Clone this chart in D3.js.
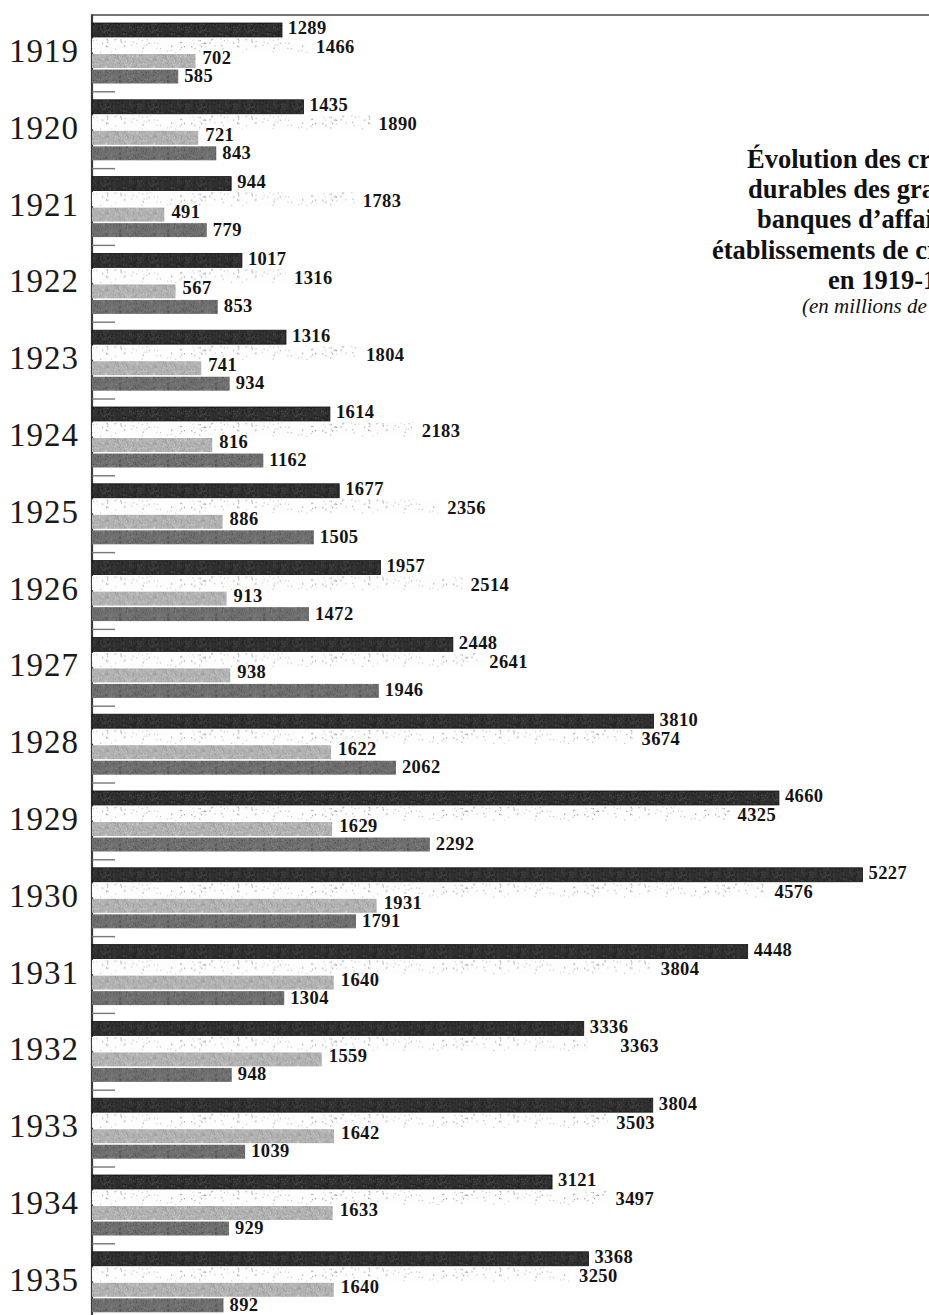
<!DOCTYPE html>
<html>
<head>
<meta charset="utf-8">
<script src="https://cdn.jsdelivr.net/npm/d3@7/dist/d3.min.js"></script>
<style>
  html, body { margin: 0; padding: 0; background: #fff; overflow: hidden; }
  svg { display: block; }
</style>
</head>
<body>
<svg id="chart" width="929" height="1315"></svg>
<script>
// Crédits durables, 1919-1935 (millions de francs)
const years = [1919, 1920, 1921, 1922, 1923, 1924, 1925, 1926, 1927, 1928, 1929, 1930, 1931, 1932, 1933, 1934, 1935];
const seriesDark = [1289, 1435, 944, 1017, 1316, 1614, 1677, 1957, 2448, 3810, 4660, 5227, 4448, 3336, 3804, 3121, 3368];
const seriesDotted = [1466, 1890, 1783, 1316, 1804, 2183, 2356, 2514, 2641, 3674, 4325, 4576, 3804, 3363, 3503, 3497, 3250];
const seriesLight = [702, 721, 491, 567, 741, 816, 886, 913, 938, 1622, 1629, 1931, 1640, 1559, 1642, 1633, 1640];
const seriesMedium = [585, 843, 779, 853, 934, 1162, 1505, 1472, 1946, 2062, 2292, 1791, 1304, 948, 1039, 929, 892];
const seriesKeys = ["dark", "dotted", "light", "medium"];
const titleLines = ["Évolution des crédits", "durables des grandes", "banques d’affaires et", "établissements de crédit", "en 1919-1935"];
const subtitle = "(en millions de francs)";

const svg = d3.select("#chart");
const W = 929, H = 1315;
const axisX = 92, frameTop = 15, groupStep = 76.8;
const serif = "'Liberation Serif', 'DejaVu Serif', serif";

const x = d3.scaleLinear().domain([0, 5227]).range([axisX, 862.5]);
const y = d3.scaleBand().domain(years).range([frameTop, frameTop + groupStep * years.length]).paddingInner(0).paddingOuter(0);
const ySub = d3.scaleBand().domain(seriesKeys).range([8, 68.5]).paddingInner(0.1).paddingOuter(0);

const rows = years.map((yr, i) => ({
  year: yr,
  values: [
    { key: "dark", v: seriesDark[i] },
    { key: "dotted", v: seriesDotted[i] },
    { key: "light", v: seriesLight[i] },
    { key: "medium", v: seriesMedium[i] }
  ]
}));

// ---- textures (seeded so the grain is stable) ----
const defs = svg.append("defs");
const rng = d3.randomLcg(0.137);

function grainPattern(id, base, speck, n, w, h, dot) {
  const p = defs.append("pattern").attr("id", id).attr("patternUnits", "userSpaceOnUse")
    .attr("width", w).attr("height", h);
  p.append("rect").attr("width", w).attr("height", h).attr("fill", base);
  for (let k = 0; k < n; k++) {
    p.append("rect")
      .attr("x", (rng() * w).toFixed(2)).attr("y", (rng() * h).toFixed(2))
      .attr("width", dot).attr("height", dot)
      .attr("fill", speck[k % speck.length]);
  }
}
grainPattern("tex-dark", "#303030", ["#111", "#555", "#1a1a1a", "#474747"], 260, 48, 24, 1);
grainPattern("tex-light", "#b2b2b2", ["#8e8e8e", "#d2d2d2", "#9a9a9a", "#c8c8c8"], 300, 48, 24, 1);
grainPattern("tex-medium", "#6e6e6e", ["#4a4a4a", "#8a8a8a", "#555", "#7e7e7e"], 300, 48, 24, 1);
// sparse, faint stipple for the dotted series
grainPattern("tex-dotted", "#fdfdfd", ["#9a9a9a", "#c4c4c4", "#b0b0b0", "#d0d0d0"], 150, 131, 29, 1.2);

const fills = { dark: "url(#tex-dark)", dotted: "url(#tex-dotted)", light: "url(#tex-light)", medium: "url(#tex-medium)" };
const labelDy = { dark: -2, dotted: 1.5, light: -3.5, medium: -1 };
const labelDx = { dark: 6, dotted: 8, light: 7, medium: 6 };

// ---- frame ----
svg.append("line").attr("x1", axisX).attr("x2", W).attr("y1", frameTop).attr("y2", frameTop)
  .attr("stroke", "#4a4a4a").attr("stroke-width", 1.6);
svg.append("line").attr("x1", axisX).attr("x2", axisX).attr("y1", frameTop - 0.8).attr("y2", H)
  .attr("stroke", "#3a3a3a").attr("stroke-width", 2.2);

// ---- groups ----
const g = svg.selectAll("g.year").data(rows).join("g")
  .attr("class", "year")
  .attr("transform", d => `translate(0,${y(d.year)})`);

// separator tick opening each group
g.filter((d, i) => i > 0).append("line")
  .attr("x1", axisX).attr("x2", axisX + 23).attr("y1", 0).attr("y2", 0)
  .attr("stroke", "#777").attr("stroke-width", 1.4);

g.append("text")
  .attr("x", 79).attr("y", 47)
  .attr("text-anchor", "end")
  .attr("font-family", serif)
  .attr("font-size", 33)
  .attr("letter-spacing", 1)
  .attr("fill", "#1a1a1a")
  .text(d => d.year);

g.selectAll("rect.bar").data(d => d.values).join("rect")
  .attr("class", "bar")
  .attr("x", axisX)
  .attr("y", d => ySub(d.key))
  .attr("width", d => x(d.v) - axisX)
  .attr("height", ySub.bandwidth())
  .attr("fill", d => fills[d.key])
  .attr("stroke", d => d.key === "dark" ? "#111" : "none")
  .attr("stroke-width", 0.8);

g.selectAll("text.val").data(d => d.values).join("text")
  .attr("class", d => "val val-" + d.key)
  .attr("x", d => x(d.v) + labelDx[d.key])
  .attr("y", d => ySub(d.key) + ySub.bandwidth() / 2 + labelDy[d.key])
  .attr("dy", "0.35em")
  .attr("font-family", serif)
  .attr("font-weight", "bold")
  .attr("font-size", 18.5)
  .attr("letter-spacing", 0.4)
  .attr("fill", "#141414")
  .text(d => d.v);

// when the dotted-series label sits almost squarely under the dark-series label,
// slide it past: right if its value is larger, left if smaller
g.each(function (d) {
  const grp = d3.select(this);
  const a = grp.select("text.val-dark"), b = grp.select("text.val-dotted");
  const ax = +a.attr("x"), aw = a.node().getComputedTextLength();
  const bx = +b.attr("x"), bw = b.node().getComputedTextLength();
  const shared = Math.min(ax + aw, bx + bw) - Math.max(ax, bx);
  if (shared > 0.7 * Math.min(aw, bw)) {
    const darkV = d.values[0].v, dotV = d.values[1].v;
    b.attr("x", dotV >= darkV ? ax + aw - 8 : ax + 2 - bw);
  }
});

// ---- title ----
const titleX = [747, 748, 757, 712, 828];
const title = svg.append("g").attr("font-family", serif).attr("fill", "#111");
title.selectAll("text").data(titleLines).join("text")
  .attr("x", (d, i) => titleX[i])
  .attr("y", (d, i) => 168 + i * 30.2)
  .attr("font-size", 26.5)
  .attr("font-weight", "bold")
  .text(d => d);
title.append("text")
  .attr("x", 802).attr("y", 313)
  .attr("font-size", 21)
  .attr("font-style", "italic")
  .text(subtitle);
</script>
</body>
</html>
